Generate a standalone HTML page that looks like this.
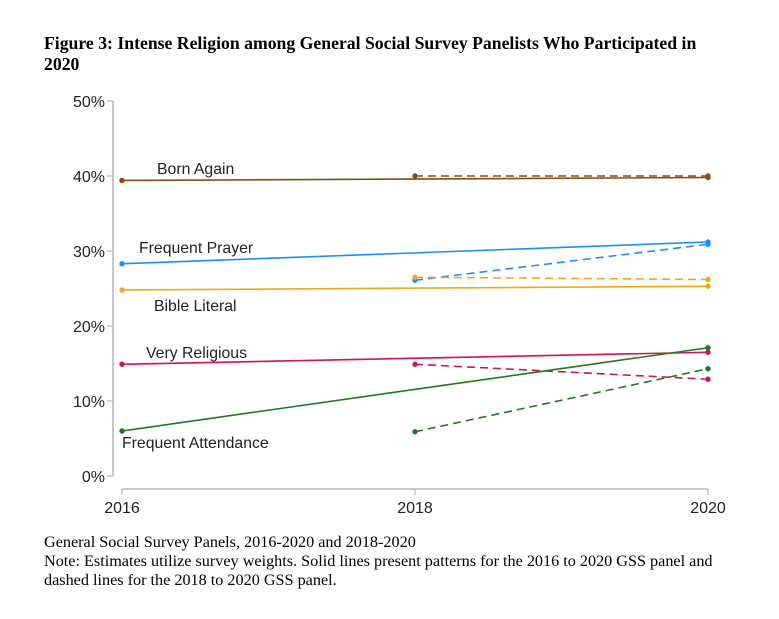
<!DOCTYPE html>
<html><head><meta charset="utf-8"><style>
body{margin:0;background:#fff;width:779px;height:619px;overflow:hidden;position:relative}
.t{position:absolute;left:44px;top:33px;font:bold 17.7px "Liberation Serif",serif;line-height:21px;color:#000;width:670px}
.f{position:absolute;left:44px;top:533px;font:16.2px "Liberation Serif",serif;line-height:19px;color:#000;width:690px}
svg{position:absolute;left:0;top:0}
text{font-family:"Liberation Sans",sans-serif}
</style></head><body>
<div class="t">Figure 3: Intense Religion among General Social Survey Panelists Who Participated in 2020</div>
<svg width="779" height="619" id="chart"></svg>
<div class="f">General Social Survey Panels, 2016-2020 and 2018-2020<br>Note: Estimates utilize survey weights. Solid lines present patterns for the 2016 to 2020 GSS panel and dashed lines for the 2018 to 2020 GSS panel.</div>
<script>
const years=[2016,2018,2020];
const yTicks=[0,10,20,30,40,50];
const seriesNames=["Born Again","Frequent Prayer","Bible Literal","Very Religious","Frequent Attendance"];
const colors=["#8b4a14","#1e8cff","#f0a818","#d0144c","#1e7a1e"];
const solid2016=[39.4,28.3,24.8,14.9,6.0];
const solid2020=[39.8,31.2,25.3,16.5,17.1];
const dashed2018=[40.0,26.1,26.5,14.9,5.9];
const dashed2020=[40.0,30.9,26.2,12.9,14.3];
const labelPos=[[157,174],[139,253],[154,311],[146,358],[122,448]];
const NS="http://www.w3.org/2000/svg";
const svg=document.getElementById('chart');
const x=v=>122+(v-2016)/4*586;
const y=v=>476-v*7.5;
function el(t,a){const e=document.createElementNS(NS,t);for(const k in a)e.setAttribute(k,a[k]);svg.appendChild(e);return e;}
let ax=el('line',{x1:113,y1:101,x2:113,y2:476,stroke:'#aaa','stroke-width':1.3});


yTicks.forEach(v=>{
  const tk=el('line',{x1:107,x2:113,y1:y(v),y2:y(v),stroke:'#aaa'});
  
  
  const t=el('text',{x:105,y:y(v)+6,'text-anchor':'end','font-size':16,fill:'#222'});
  t.textContent=v+'%';
  
  
});
let xa=el('line',{x1:x(2016),y1:489,x2:x(2020),y2:489,stroke:'#aaa','stroke-width':1.3});


years.forEach(v=>{
  const tk=el('line',{x1:x(v),x2:x(v),y1:489,y2:495,stroke:'#aaa'});
  
  
  const t=el('text',{x:x(v),y:513,'text-anchor':'middle','font-size':16,fill:'#222'});
  t.textContent=v;
  
  
});
seriesNames.forEach((n,i)=>{
  const s=el('line',{x1:x(2016),y1:y(solid2016[i]),x2:x(2020),y2:y(solid2020[i]),stroke:colors[i],'stroke-width':1.6});
  
  
  const d=el('line',{x1:x(2018),y1:y(dashed2018[i]),x2:x(2020),y2:y(dashed2020[i]),stroke:colors[i],'stroke-width':1.6,'stroke-dasharray':'8,5'});
  
  
  [[2016,solid2016[i]],[2020,solid2020[i]],[2018,dashed2018[i]],[2020,dashed2020[i]]].forEach(p=>{
    const m=el('circle',{cx:x(p[0]),cy:y(p[1]),r:2.2,fill:colors[i],stroke:colors[i],'stroke-width':1});
    
    
  });
  const t=el('text',{x:labelPos[i][0],y:labelPos[i][1],'font-size':15.8,fill:'#222'});
  t.textContent=n;
  
  
});
</script>
</body></html>
